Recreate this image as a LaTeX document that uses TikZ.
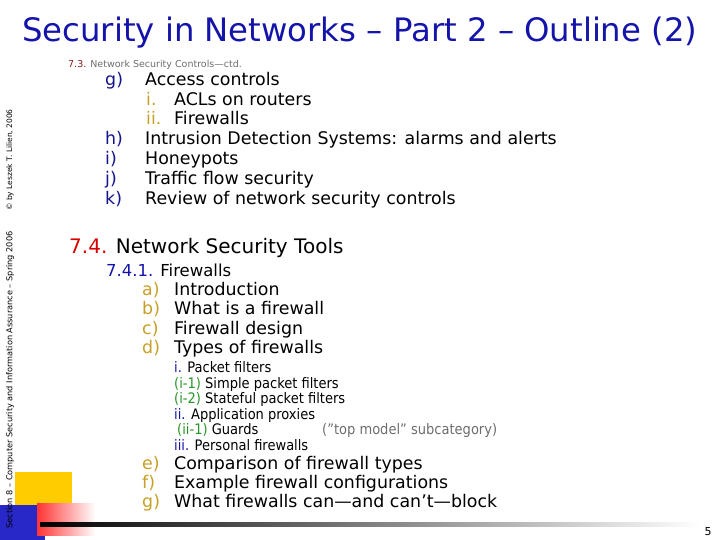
\documentclass[tikz,border=0pt]{standalone}
\usepackage{fontspec}
\setmainfont{DejaVu Sans}
\newfontfamily\cond{DejaVu Sans Condensed}
\definecolor{navy}{RGB}{20,20,170}
\definecolor{dblue}{RGB}{20,20,140}
\definecolor{gold}{RGB}{200,160,40}
\definecolor{dred}{RGB}{140,30,30}
\definecolor{tgray}{RGB}{110,110,110}
\definecolor{grn}{RGB}{40,150,40}
\definecolor{yel}{RGB}{255,204,0}
\definecolor{blu}{RGB}{40,40,200}
\tikzset{t/.style={anchor=base west,inner sep=0pt,text=black},
 l1/.style={t,font=\fontsize{17.4}{17.4}\selectfont},
 l2/.style={t,font=\cond\fontsize{14.5}{14.5}\selectfont}}
\begin{document}
\begin{tikzpicture}[x=1pt,y=-1pt]
\useasboundingbox (0,0) rectangle (720,540);
\fill[white] (0,0) rectangle (720,540);
% decor
\fill[yel] (15,472) rectangle (72,528);
\fill[blu] (0,505) rectangle (45,540);
\shade[left color=red!80, right color=white] (37,503) rectangle (95,535);
\shade[left color=black,right color=white] (40,522.5) rectangle (700,526);
\node[anchor=base,inner sep=0pt,font=\fontsize{11}{11}\selectfont] (pg) at (708,535) {5};
\node[anchor=base west,inner sep=0pt,text=navy,font=\fontsize{32.3}{32.3}\selectfont] (title) at (22,42) {Security in Networks – Part 2 – Outline (2)};
\node[rotate=90,inner sep=0pt,font=\fontsize{7.5}{7.5}\selectfont] (cp) at (10,160) {© by Leszek T. Lilien, 2006};
\node[rotate=90,inner sep=0pt,font=\fontsize{8.2}{8.2}\selectfont] (sec) at (10,380) {Section 8 – Computer Security and Information Assurance – Spring 2006};
\node[t,font=\fontsize{9.5}{9.5}\selectfont] (s73) at (68,68) {\textcolor{dred}{7.3.} \textcolor{tgray}{Network Security Controls—ctd.}};
\node[l1,text=dblue] (g1) at (105,86) {g)}; \node[l1] (g1t) at (145,86) {Access controls};
\node[l1,text=gold] (i1) at (146,106) {i.}; \node[l1] (i1t) at (174,106) {ACLs on routers};
\node[l1,text=gold] (ii1) at (146,125) {ii.}; \node[l1] (ii1t) at (174,125) {Firewalls};
\node[l1,text=dblue] (h1) at (105,145) {h)}; \node[l1] (h1t) at (145,145) {Intrusion Detection Systems: alarms and alerts};
\node[l1,text=dblue] (i2) at (105,165) {i)}; \node[l1] (i2t) at (145,165) {Honeypots};
\node[l1,text=dblue] (j1) at (105,185) {j)}; \node[l1] (j1t) at (145,185) {Traffic flow security};
\node[l1,text=dblue] (k1) at (105,205) {k)}; \node[l1] (k1t) at (145,205) {Review of network security controls};
\node[t,font=\fontsize{20}{20}\selectfont] (s74) at (69,254) {\textcolor{red!85!black}{7.4.} Network Security Tools};
\node[t,font=\fontsize{16.5}{16.5}\selectfont] (s741) at (106,276) {\textcolor{navy}{7.4.1.} Firewalls};
\foreach \n/\l/\txt/\y in {a/a)/Introduction/295, b/b)/What is a firewall/314, c/c)/Firewall design/334, d/d)/Types of firewalls/353, e/e)/Comparison of firewall types/469, f/f)/Example firewall configurations/488, g/g)/What firewalls can—and can’t—block/507}{
 \node[l1,text=gold] (\n l) at (142,\y) {\l}; \node[l1] (\n t) at (174,\y) {\txt};}
\node[l2] (p1) at (174,372) {\textcolor{navy}{i.} Packet filters};
\node[l2] (p2) at (174,388) {\textcolor{grn}{(i-1)} Simple packet filters};
\node[l2] (p3) at (174,403) {\textcolor{grn}{(i-2)} Stateful packet filters};
\node[l2] (p4) at (174,419) {\textcolor{navy}{ii.} Application proxies};
\node[l2] (p5) at (177,434) {\textcolor{grn}{(ii-1)} Guards};
\node[l2,text=tgray] (p5b) at (322,434) {(”top model” subcategory)};
\node[l2] (p6) at (174,450) {\textcolor{navy}{iii.} Personal firewalls};
\end{tikzpicture}
\end{document}
